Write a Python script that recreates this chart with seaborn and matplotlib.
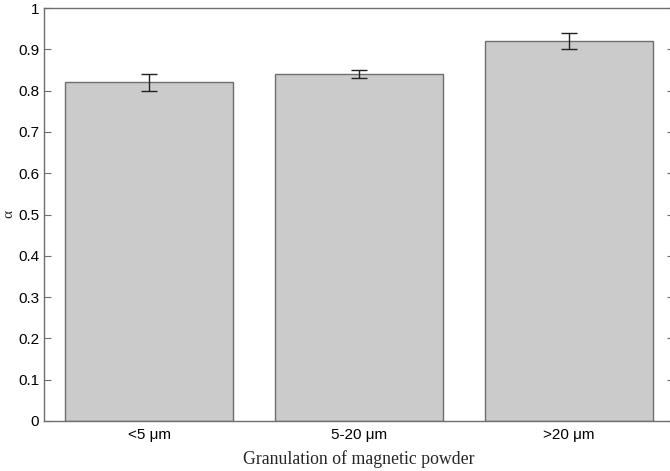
import matplotlib
matplotlib.use("Agg")
import matplotlib.pyplot as plt
import numpy as np
import pandas as pd
import seaborn as sns

# Data
categories = ["<5 μm", "5-20 μm", ">20 μm"]
alpha_values = [0.82, 0.84, 0.92]
alpha_errors = [0.02, 0.01, 0.02]

df = pd.DataFrame({"granulation": categories, "alpha": alpha_values})

sns.set_style("ticks")
plt.rcParams["font.family"] = ["Liberation Sans", "DejaVu Sans"]

fig = plt.figure(figsize=(6.7, 4.71), dpi=100)
ax = fig.add_axes([44 / 670, 1 - 421 / 471, 630 / 670, 413 / 471])

sns.barplot(data=df, x="granulation", y="alpha", color="#cbcbcb", saturation=1,
            edgecolor="#6e6e6e", linewidth=1.0, width=0.8, errorbar=None, ax=ax)
ax.errorbar(np.arange(len(categories)), alpha_values, yerr=alpha_errors,
            fmt="none", ecolor="#222222", elinewidth=1.0, capsize=6, capthick=1.0)

ax.set_xlim(-0.5, 2.5)
ax.set_ylim(0, 1)
ax.set_yticks(np.arange(0, 1.01, 0.1))
ax.set_yticklabels(["0"] + ["%.1f" % v for v in np.arange(0.1, 0.95, 0.1)] + ["1"])

for s in ax.spines.values():
    s.set_visible(True)
    s.set_color("#6e6e6e")
    s.set_linewidth(1.0)
ax.tick_params(direction="in", length=5, color="#6e6e6e", labelsize=11,
               labelcolor="black", top=True, right=True)
ax.tick_params(axis="x", top=False, pad=5)

ax.set_xlabel("Granulation of magnetic powder", family="Liberation Serif",
              fontsize=12.8, labelpad=6)
ax.set_ylabel("α", family="Liberation Serif", fontsize=11)
ax.yaxis.set_label_coords(-29 / 630, 0.5)

fig.savefig("out.png", dpi=100)
